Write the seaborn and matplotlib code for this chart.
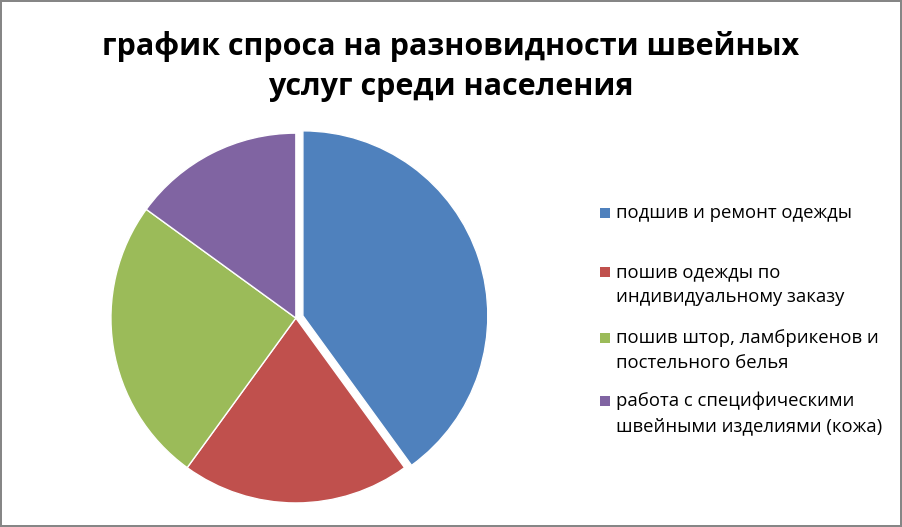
import matplotlib
matplotlib.use("Agg")
import matplotlib.pyplot as plt
import matplotlib.patches as mpatches
import seaborn as sns

# данные
categories = ['подшив и ремонт одежды',
              'пошив одежды по\nиндивидуальному заказу',
              'пошив штор, ламбрикенов и\nпостельного белья',
              'работа с специфическими\nшвейными изделиями (кожа)']
values = [40, 20, 25, 15]
colors = ['#4F81BD', '#C0504D', '#9BBB59', '#8064A2']
explode = [0.04, 0, 0, 0]

sns.set_style("white")
plt.rcParams['font.family'] = ['Open Sans', 'DejaVu Sans']

W, H = 902, 527
fig = plt.figure(figsize=(W / 100, H / 100), dpi=100)
fig.patch.set_edgecolor('#868686')
fig.patch.set_linewidth(1.5)

ax = fig.add_axes([0.1025, 0.0105, 0.451, 0.772])
ax.pie(values, colors=colors, explode=explode, startangle=90, counterclock=False,
       wedgeprops=dict(edgecolor='white', linewidth=1), radius=1)
ax.set_xlim(-1.1, 1.1)
ax.set_ylim(-1.1, 1.1)
ax.set_aspect('equal')
ax.axis('off')

fig.text(0.5, 1 - 66.5 / H, 'график спроса на разновидности швейных\nуслуг среди населения',
         ha='center', va='center', fontsize=22, fontweight='bold', linespacing=1.4,
         color='black')

# легенда (как в Excel: квадрат у первой строки, строки через 25 px)
legend_y = [213, 272, 338, 401]
for lab, c, y0 in zip(categories, colors, legend_y):
    fig.patches.append(mpatches.Rectangle((600 / W, 1 - (y0 + 5) / H), 10 / W, 10 / H,
                                          transform=fig.transFigure, facecolor=c,
                                          edgecolor='none'))
    for k, line in enumerate(lab.split('\n')):
        fig.text(616 / W, 1 - (y0 + 25 * k) / H, line, ha='left', va='center',
                 fontsize=13.3, color='black')

fig.savefig('out.png', dpi=100)
